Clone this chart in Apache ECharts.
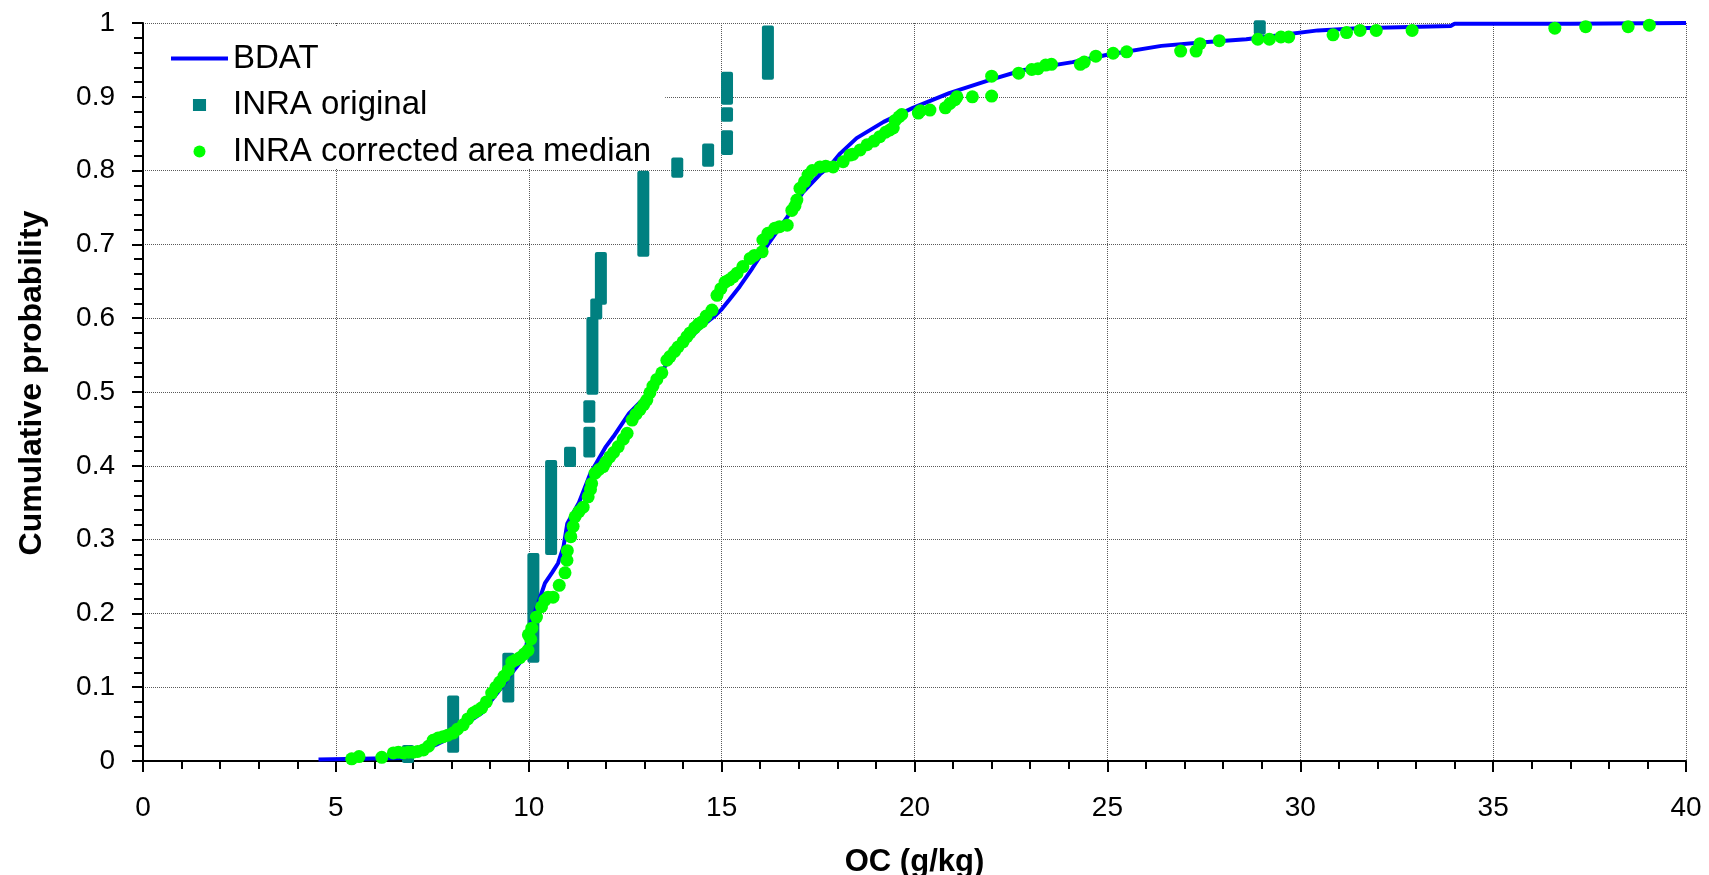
<!DOCTYPE html>
<html>
<head>
<meta charset="utf-8">
<title>OC cumulative probability</title>
<script src="https://cdn.jsdelivr.net/npm/echarts@6.0.0/dist/echarts.min.js"></script>
<style>
html, body { margin: 0; padding: 0; background: #fff; }
#chart { width: 1709px; height: 875px; }
</style>
</head>
<body>
<div id="chart"></div>
<script>
// BDAT empirical distribution (OC g/kg -> cumulative probability)
var bdatX = [4.55, 6.7, 7.0, 7.3, 7.6, 7.9, 8.1, 8.3, 8.5, 8.78, 9.0, 9.3, 9.5, 9.8, 9.9, 10.0, 10.05, 10.25, 10.42, 10.6, 10.76, 10.9, 11.0, 11.3, 11.6, 12.0, 12.2, 12.6, 13.15, 13.3, 13.6, 14.0, 14.5, 14.8, 15.0, 15.2, 15.47, 15.8, 16.2, 16.7, 17.1, 17.55, 17.8, 18.07, 18.5, 19.2, 19.96, 20.9, 21.96, 22.8, 24.1, 25.0, 26.4, 27.5, 28.6, 29.4, 30.46, 31.5, 33.9, 34.0, 37.0, 40.0];
var bdatY = [0.002, 0.004, 0.009, 0.015, 0.022, 0.03, 0.037, 0.045, 0.055, 0.065, 0.08, 0.1, 0.115, 0.135, 0.145, 0.175, 0.187, 0.215, 0.241, 0.255, 0.268, 0.29, 0.322, 0.35, 0.39, 0.426, 0.44, 0.471, 0.5, 0.516, 0.54, 0.563, 0.59, 0.602, 0.612, 0.625, 0.643, 0.668, 0.7, 0.737, 0.77, 0.795, 0.806, 0.823, 0.844, 0.866, 0.885, 0.905, 0.923, 0.936, 0.947, 0.957, 0.969, 0.974, 0.978, 0.983, 0.99, 0.993, 0.996, 0.999, 0.999, 1.0];

// INRA original: discrete OC values, with the range of cumulative probability they cover
var origX    = [6.87, 8.04, 9.47, 10.12, 10.58, 11.07, 11.57, 11.57, 11.65, 11.75, 11.87, 12.97, 13.85, 14.65, 15.14, 15.14, 15.14, 16.2, 28.95];
var origLow  = [0.004, 0.018, 0.086, 0.14, 0.286, 0.405, 0.418, 0.465, 0.503, 0.605, 0.625, 0.69, 0.797, 0.812, 0.828, 0.873, 0.896, 0.93, 0.991];
var origHigh = [0.015, 0.082, 0.14, 0.275, 0.401, 0.419, 0.446, 0.482, 0.595, 0.62, 0.683, 0.793, 0.811, 0.83, 0.848, 0.879, 0.927, 0.99, 0.997];

// INRA corrected area median
var corrX = [5.41, 5.6, 6.19, 6.49, 6.62, 6.75, 6.88, 7.0, 7.12, 7.27, 7.4, 7.52, 7.65, 7.78, 7.9, 8.04, 8.15, 8.3, 8.42, 8.56, 8.66, 8.78, 8.9, 9.04, 9.15, 9.25, 9.36, 9.47, 9.56, 9.66, 9.77, 9.88, 9.98, 9.99, 10.05, 10.08, 10.2, 10.33, 10.42, 10.5, 10.63, 10.79, 10.94, 10.99, 11.0, 11.09, 11.15, 11.2, 11.3, 11.41, 11.54, 11.6, 11.63, 11.72, 11.82, 11.93, 12.0, 12.1, 12.2, 12.32, 12.45, 12.55, 12.68, 12.78, 12.88, 12.98, 13.06, 13.14, 13.22, 13.32, 13.45, 13.58, 13.66, 13.78, 13.87, 14.0, 14.1, 14.18, 14.3, 14.4, 14.49, 14.6, 14.75, 14.88, 14.98, 15.09, 15.2, 15.3, 15.4, 15.55, 15.74, 15.85, 16.05, 16.07, 16.2, 16.38, 16.5, 16.7, 16.82, 16.9, 16.95, 17.03, 17.15, 17.24, 17.35, 17.55, 17.7, 17.89, 18.15, 18.33, 18.4, 18.59, 18.77, 18.95, 19.1, 19.25, 19.36, 19.45, 19.5, 19.6, 19.67, 20.1, 20.15, 20.4, 20.8, 20.92, 21.05, 21.1, 21.5, 22.0, 22.0, 22.7, 23.04, 23.2, 23.4, 23.55, 24.3, 24.4, 24.7, 25.15, 25.5, 26.9, 27.3, 27.4, 27.9, 28.9, 29.2, 29.5, 29.7, 30.85, 31.2, 31.55, 31.97, 32.9, 36.6, 37.4, 38.5, 39.05];
var corrY = [0.003, 0.006, 0.005, 0.011, 0.012, 0.011, 0.012, 0.012, 0.013, 0.015, 0.02, 0.028, 0.031, 0.033, 0.035, 0.038, 0.043, 0.049, 0.057, 0.065, 0.068, 0.072, 0.08, 0.092, 0.1, 0.107, 0.115, 0.123, 0.134, 0.137, 0.14, 0.145, 0.15, 0.171, 0.165, 0.18, 0.195, 0.209, 0.218, 0.222, 0.222, 0.238, 0.255, 0.272, 0.285, 0.304, 0.318, 0.331, 0.338, 0.344, 0.358, 0.368, 0.376, 0.39, 0.395, 0.399, 0.405, 0.412, 0.418, 0.426, 0.436, 0.444, 0.462, 0.47, 0.476, 0.483, 0.489, 0.499, 0.508, 0.517, 0.526, 0.543, 0.548, 0.555, 0.561, 0.568, 0.575, 0.58, 0.587, 0.592, 0.595, 0.603, 0.611, 0.631, 0.64, 0.649, 0.652, 0.656, 0.661, 0.67, 0.681, 0.685, 0.69, 0.706, 0.715, 0.722, 0.724, 0.726, 0.746, 0.752, 0.76, 0.776, 0.785, 0.794, 0.8, 0.805, 0.806, 0.805, 0.812, 0.821, 0.822, 0.828, 0.835, 0.84, 0.846, 0.852, 0.855, 0.858, 0.868, 0.873, 0.876, 0.878, 0.881, 0.882, 0.885, 0.891, 0.896, 0.9, 0.9, 0.901, 0.928, 0.932, 0.937, 0.938, 0.943, 0.944, 0.944, 0.947, 0.955, 0.959, 0.961, 0.962, 0.962, 0.972, 0.976, 0.978, 0.978, 0.981, 0.981, 0.984, 0.987, 0.99, 0.99, 0.99, 0.993, 0.995, 0.995, 0.997];

var yTickLabels = ['0', '0.1', '0.2', '0.3', '0.4', '0.5', '0.6', '0.7', '0.8', '0.9', '1'];

var bdatData = bdatX.map(function (x, i) { return [x, bdatY[i]]; });
var origData = origX.map(function (x, i) { return [x, origLow[i], origHigh[i]]; });
var corrData = corrX.map(function (x, i) { return [x, corrY[i]]; });

var chart = echarts.init(document.getElementById('chart'));

var axisBlack = { color: '#000', width: 2 };
var gridDots = { color: '#5a5a5a', type: 'dotted', width: 1 };

var option = {
    animation: false,
    backgroundColor: '#fff',
    textStyle: { fontFamily: 'Liberation Sans, Arial, sans-serif', color: '#000' },
    grid: { left: 143, right: 23, top: 23, bottom: 114, containLabel: false, outerBoundsMode: 'none' },
    legend: {
        orient: 'vertical',
        left: 147,
        top: 27,
        padding: [15, 14, 0, 24],
        backgroundColor: '#fff',
        itemWidth: 57,
        itemHeight: 12,
        itemGap: 13.5,
        textStyle: { fontSize: 33, color: '#000', lineHeight: 33 },
        data: [
            { name: 'BDAT', icon: 'path://M0,0L57,0L57,4L0,4Z' },
            { name: 'INRA original', icon: 'path://M0,0L12,0L12,11L0,11Z' },
            { name: 'INRA corrected area median', icon: 'circle' }
        ]
    },
    xAxis: {
        type: 'value',
        min: 0,
        max: 40,
        interval: 5,
        name: 'OC (g/kg)',
        nameLocation: 'middle',
        nameGap: 86,
        nameTextStyle: { fontSize: 31, fontWeight: 'bold', color: '#000' },
        axisLine: { show: true, onZero: false, lineStyle: axisBlack },
        axisTick: { show: true, length: 11, lineStyle: axisBlack },
        minorTick: { show: true, splitNumber: 5, length: 8, lineStyle: axisBlack },
        axisLabel: { fontSize: 28, color: '#000', margin: 33 },
        splitLine: { show: true, lineStyle: gridDots }
    },
    yAxis: {
        type: 'value',
        min: 0,
        max: 1,
        interval: 0.1,
        name: 'Cumulative probability',
        nameLocation: 'middle',
        nameGap: 95,
        nameRotate: 90,
        nameTextStyle: { fontSize: 32, fontWeight: 'bold', color: '#000', padding: [0, 0, 0, 18] },
        axisLine: { show: true, onZero: false, lineStyle: axisBlack },
        axisTick: { show: true, length: 11, lineStyle: axisBlack },
        minorTick: { show: true, splitNumber: 5, length: 9, lineStyle: axisBlack },
        axisLabel: {
            fontSize: 28,
            color: '#000',
            margin: 28,
            formatter: function (v, i) { return yTickLabels[i]; }
        },
        splitLine: { show: true, lineStyle: gridDots }
    },
    series: [
        {
            name: 'INRA original',
            type: 'custom',
            z: 2,
            clip: false,
            itemStyle: { color: '#008080' },
            encode: { x: 0, y: [1, 2] },
            renderItem: function (params, api) {
                var top = api.coord([api.value(0), api.value(2)]);
                var bot = api.coord([api.value(0), api.value(1)]);
                return {
                    type: 'rect',
                    shape: { x: top[0] - 6, y: top[1] - 5, width: 12, height: bot[1] - top[1] + 10, r: 2 },
                    style: { fill: '#008080' }
                };
            },
            data: origData
        },
        {
            name: 'BDAT',
            type: 'line',
            z: 3,
            symbol: 'none',
            lineStyle: { color: '#0000ff', width: 4 },
            itemStyle: { color: '#0000ff' },
            data: bdatData
        },
        {
            name: 'INRA corrected area median',
            type: 'scatter',
            z: 4,
            symbol: 'circle',
            symbolSize: 13,
            itemStyle: { color: '#00ff00', opacity: 1 },
            data: corrData
        }
    ]
};

chart.setOption(option);
</script>
</body>
</html>
